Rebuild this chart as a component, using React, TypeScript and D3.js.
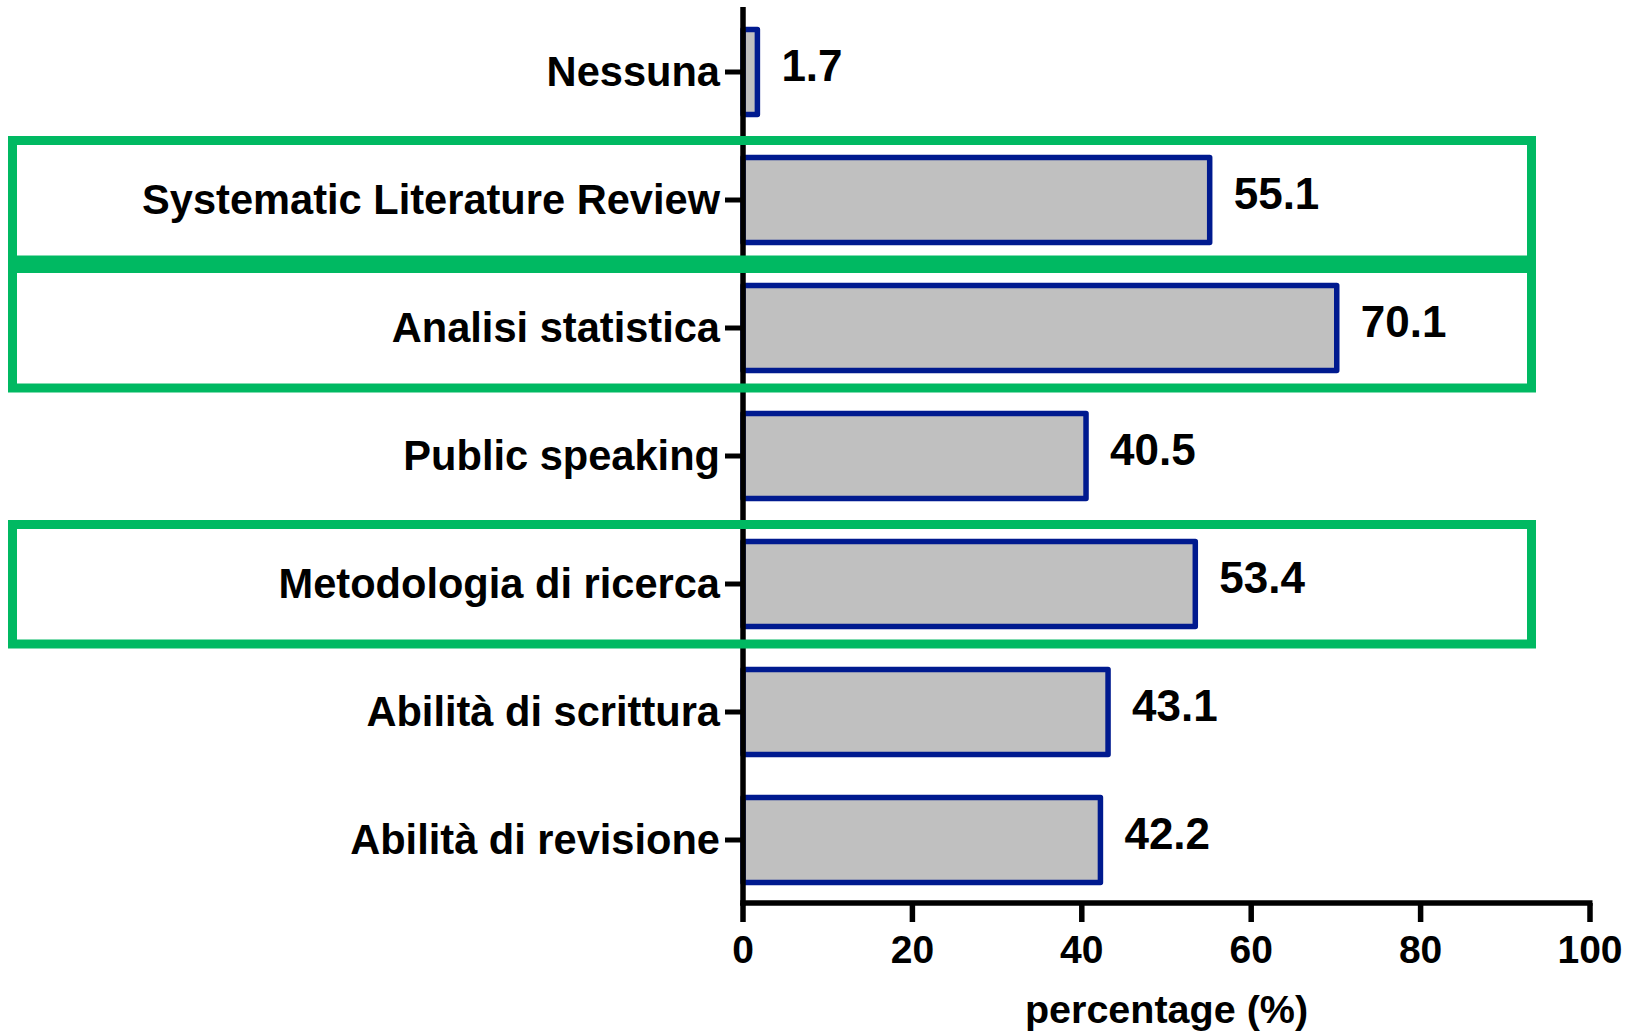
import React from "react";
import * as d3 from "d3";

const categories = [
  "Nessuna",
  "Systematic Literature Review",
  "Analisi statistica",
  "Public speaking",
  "Metodologia di ricerca",
  "Abilità di scrittura",
  "Abilità di revisione",
];
const values = [1.7, 55.1, 70.1, 40.5, 53.4, 43.1, 42.2];
const valueLabels = ["1.7", "55.1", "70.1", "40.5", "53.4", "43.1", "42.2"];
const xTicks = [0, 20, 40, 60, 80, 100];
const highlighted = ["Systematic Literature Review", "Analisi statistica", "Metodologia di ricerca"];
const xTitle = "percentage (%)";

const W = 1634;
const H = 1032;
const FONT = "'Liberation Sans', Arial, Helvetica, sans-serif";
const BAR_FILL = "#C0C0C0";
const BAR_STROKE = "#001A8F";
const GREEN = "#00B962";

export default function App() {
  const x = d3.scaleLinear().domain([0, 100]).range([743, 1590]);
  const y = d3
    .scaleBand<string>()
    .domain(categories)
    .range([8, 904])
    .paddingInner(0.336)
    .paddingOuter(0.168);
  const axisY = 903;
  const bw = y.bandwidth();
  const step = y.step();

  return (
    <svg
      width={W}
      height={H}
      viewBox={`0 0 ${W} ${H}`}
      style={{ position: "absolute", left: 0, top: 0, background: "#fff" }}
      fontFamily={FONT}
      fontWeight="bold"
    >
      <rect x={0} y={0} width={W} height={H} fill="#fff" />
      {/* bars */}
      {categories.map((c, i) => {
        const y0 = y(c)!;
        return (
          <rect
            key={c}
            x={x(0)}
            y={y0}
            width={x(values[i]) - x(0)}
            height={bw}
            fill={BAR_FILL}
            stroke={BAR_STROKE}
            strokeWidth={5.5}
            strokeLinejoin="round"
          />
        );
      })}
      {/* value labels */}
      {categories.map((c, i) => {
        const cy = y(c)! + bw / 2;
        return (
          <text key={c} x={x(values[i]) + 24} y={cy + 9} fontSize={44} fill="#000">
            {valueLabels[i]}
          </text>
        );
      })}
      {/* y axis */}
      <line x1={x(0)} x2={x(0)} y1={7} y2={axisY + 2.5} stroke="#000" strokeWidth={5.5} />
      {categories.map((c) => {
        const cy = y(c)! + bw / 2;
        return (
          <g key={c}>
            <line x1={725} x2={x(0)} y1={cy} y2={cy} stroke="#000" strokeWidth={5} />
            <text x={720} y={cy + 14} fontSize={41.6} textAnchor="end" fill="#000">
              {c}
            </text>
          </g>
        );
      })}
      {/* x axis */}
      <line x1={x(0) - 2.75} x2={x(100) + 2.5} y1={axisY} y2={axisY} stroke="#000" strokeWidth={5.5} />
      {xTicks.map((t) => (
        <g key={t}>
          <line x1={x(t)} x2={x(t)} y1={axisY} y2={axisY + 19} stroke="#000" strokeWidth={5.5} />
          <text x={x(t)} y={axisY + 60} fontSize={39} textAnchor="middle" fill="#000">
            {t}
          </text>
        </g>
      ))}
      <text x={(x(0) + x(100)) / 2} y={1023} fontSize={39.5} textAnchor="middle" fill="#000">
        {xTitle}
      </text>
      {/* highlight boxes */}
      {highlighted.map((c) => {
        const y0 = y(c)!;
        const top = y0 - (step - bw) / 2 + 4.5;
        return (
          <rect
            key={c}
            x={12.5}
            y={top}
            width={1519}
            height={119.5}
            fill="none"
            stroke={GREEN}
            strokeWidth={9}
          />
        );
      })}
    </svg>
  );
}
